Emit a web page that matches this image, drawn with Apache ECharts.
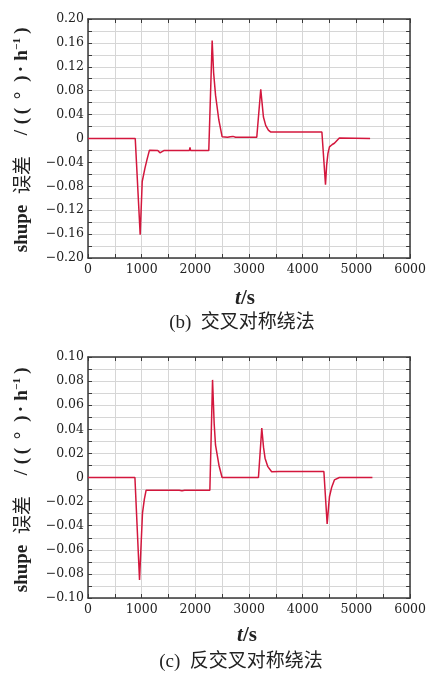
<!DOCTYPE html>
<html><head><meta charset="utf-8">
<script src="https://cdn.jsdelivr.net/npm/echarts@6/dist/echarts.min.js"></script>
<style>html,body{margin:0;padding:0;background:#fff}#c{width:429px;height:673px}</style>
</head><body><div id="c"></div>
<script>
// ---- data (b) 交叉对称绕法 ----
const tB = [0, 880, 972, 1010, 1060, 1100, 1145, 1300, 1340, 1360, 1380, 1400, 1420, 1440, 1890, 1900, 1910, 2250, 2313, 2340, 2376, 2437, 2498, 2600, 2650, 2700, 2750, 2800, 3144, 3218, 3268, 3310, 3360, 3400, 3550, 3570, 3600, 4357, 4424, 4445, 4470, 4498, 4550, 4590, 4682, 5255];
const vB = [0, 0, -0.161, -0.072, -0.05, -0.035, -0.0195, -0.02, -0.024, -0.027, -0.022, -0.025, -0.02, -0.02, -0.02, -0.015, -0.02, -0.02, 0.164, 0.11, 0.0725, 0.031, 0.003, 0.002, 0.003, 0.0035, 0.002, 0.002, 0.002, 0.0825, 0.036, 0.022, 0.014, 0.011, 0.011, 0.013, 0.011, 0.011, -0.0775, -0.045, -0.025, -0.014, -0.01, -0.008, 0.001, 0.0];
// ---- data (c) 反交叉对称绕法 ----
const tC = [0, 874, 960, 1015, 1050, 1083, 1500, 1700, 1750, 1800, 2270, 2320, 2350, 2375, 2440, 2498, 3175, 3237, 3270, 3298, 3350, 3421, 3560, 3580, 4394, 4455, 4480, 4498, 4540, 4590, 4682, 5298];
const vC = [0, 0, -0.085, -0.0295, -0.018, -0.0105, -0.0105, -0.0105, -0.011, -0.0105, -0.0105, 0.081, 0.045, 0.027, 0.01, 0.0, 0.0, 0.041, 0.025, 0.016, 0.009, 0.0048, 0.005, 0.006, 0.005, -0.0386, -0.025, -0.016, -0.008, -0.002, 0, 0];
// ---- ticks ----
const xTicks = [0, 1000, 2000, 3000, 4000, 5000, 6000];
const yTicksB = [-0.20, -0.16, -0.12, -0.08, -0.04, 0, 0.04, 0.08, 0.12, 0.16, 0.20];
const yTicksC = [-0.10, -0.08, -0.06, -0.04, -0.02, 0, 0.02, 0.04, 0.06, 0.08, 0.10];
const captionB = '(b)  交叉对称绕法';
const captionC = '(c)  反交叉对称绕法';
// y-axis title pieces (read bottom to top): shupe 误差 /((°)·h⁻¹)
const yTitleParts = ['shupe', '误差', '/', '(', '(', '°', ')', '·', 'h', '−1', ')'];

const SERIF = '"Liberation Serif","Times New Roman",serif';
const TICKF = '"DejaVu Serif",serif';
const CJK = '"Noto Sans CJK SC",sans-serif';
const AX = '#3a3a3a', GRIDC = '#d6d6d6', LINE = '#d3173d';

function fmtY(v){ if (Math.abs(v) < 1e-9) return '0'; return (v < 0 ? '\u2212' : '') + Math.abs(v).toFixed(2); }

function axesFor(gi, yT){
  const ymin = yT[0], ymax = yT[yT.length-1], yint = yT[1]-yT[0];
  const xa = [{
    type:'value', gridIndex:gi, min:0, max:6000, interval:1000,
    axisLine:{show:true, onZero:false, lineStyle:{color:AX, width:1.5}},
    axisTick:{show:true, inside:true, length:4, lineStyle:{color:AX}},
    minorTick:{show:true, splitNumber:2, length:4, lineStyle:{color:AX}},
    splitLine:{show:true, lineStyle:{color:GRIDC}},
    minorSplitLine:{show:true, lineStyle:{color:GRIDC}},
    axisLabel:{fontFamily:TICKF, fontSize:12.5, color:'#222', margin:5,
      formatter:(v)=> xTicks.includes(v) ? String(v) : ''}
  },{
    type:'value', gridIndex:gi, position:'top', min:0, max:6000, interval:1000,
    axisLine:{show:true, onZero:false, lineStyle:{color:AX, width:1.5}},
    axisTick:{show:true, inside:true, length:4, lineStyle:{color:AX}},
    minorTick:{show:true, splitNumber:2, length:4, lineStyle:{color:AX}},
    splitLine:{show:false}, axisLabel:{show:false}
  }];
  const ya = [{
    type:'value', gridIndex:gi, min:ymin, max:ymax, interval:yint,
    axisLine:{show:true, onZero:false, lineStyle:{color:AX, width:1.5}},
    axisTick:{show:true, inside:true, length:4, lineStyle:{color:AX}},
    minorTick:{show:true, splitNumber:2, length:4, lineStyle:{color:AX}},
    splitLine:{show:true, lineStyle:{color:GRIDC}},
    minorSplitLine:{show:true, lineStyle:{color:GRIDC}},
    axisLabel:{fontFamily:TICKF, fontSize:12.5, color:'#222', margin:4, formatter:fmtY}
  },{
    type:'value', gridIndex:gi, position:'right', min:ymin, max:ymax, interval:yint,
    axisLine:{show:true, onZero:false, lineStyle:{color:AX, width:1.5}},
    axisTick:{show:true, inside:true, length:4, lineStyle:{color:AX}},
    minorTick:{show:true, splitNumber:2, length:4, lineStyle:{color:AX}},
    splitLine:{show:false}, axisLabel:{show:false}
  }];
  return {xa, ya};
}
const aB = axesFor(0, yTicksB), aC = axesFor(1, yTicksC);

// layout of y title pieces along the axis (centre y offsets from title top, x centre)
const partY = [228.5, 175, 132.5, 121, 111, 95.5, 78.5, 69, 55.5, 44, 30.5];
function yName(dy){
  return yTitleParts.map((p,i)=>{
    const isCJK = (p === '误差');
    const isSup = (p === '−1');
    return {type:'text', x: isSup ? 17 : 22, y: partY[i] + dy, rotation:Math.PI/2,
      style:{text:p, align:'center', verticalAlign:'middle',
        font: (isCJK ? '19px ' + CJK : (isSup ? 'bold 11px ' + SERIF : 'bold 19px ' + SERIF)),
        fill:'#222'}};
  });
}
function xName(x,y){
  return {type:'text', x:x, y:y,
    style:{text:'{i|t}{n|/s}', align:'center', verticalAlign:'middle',
      rich:{i:{fontFamily:SERIF, fontSize:21, fontStyle:'italic', fontWeight:'bold', fill:'#222'},
            n:{fontFamily:SERIF, fontSize:21, fontWeight:'bold', fill:'#222'}}}};
}
function caption(x,y,txt){
  return {type:'text', x:x, y:y, style:{text:txt, align:'center', verticalAlign:'middle',
    font:'19px "Liberation Serif","Noto Sans CJK SC",serif', fill:'#222'}};
}

const chart = echarts.init(document.getElementById('c'), null, {renderer:'canvas'});
chart.setOption({
  animation:false,
  backgroundColor:'#fff',
  grid:[{left:88, top:19, right:16, height:239},{left:88, top:357, right:12, height:241}],
  xAxis:[...aB.xa, ...aC.xa.map(a=>Object.assign({}, a, {gridIndex:1}))],
  yAxis:[...aB.ya, ...aC.ya.map(a=>Object.assign({}, a, {gridIndex:1}))],
  series:[
    {type:'line', xAxisIndex:0, yAxisIndex:0, data:tB.map((t,i)=>[t,vB[i]]), showSymbol:false, symbol:'none',
      lineStyle:{color:LINE, width:1.5}},
    {type:'line', xAxisIndex:2, yAxisIndex:2, data:tC.map((t,i)=>[t,vC[i]]), showSymbol:false, symbol:'none',
      lineStyle:{color:LINE, width:1.5}}
  ],
  graphic:[...yName(0), xName(245, 299), caption(242, 323, captionB),
           ...yName(340), xName(247, 636), caption(241, 662, captionC)]
});
</script></body></html>
